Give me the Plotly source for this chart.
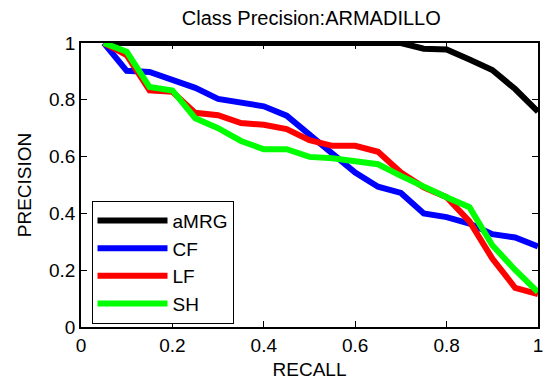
import plotly.graph_objects as go

recall = [0.05, 0.10, 0.15, 0.20, 0.25, 0.30, 0.35, 0.40, 0.45, 0.50,
          0.55, 0.60, 0.65, 0.70, 0.75, 0.80, 0.85, 0.90, 0.95, 1.00]

amrg = [1.0, 1.0, 1.0, 1.0, 1.0, 1.0, 1.0, 1.0, 1.0, 1.0,
        1.0, 1.0, 1.0, 1.0, 0.98, 0.977, 0.942, 0.905, 0.838, 0.758]
cf = [1.0, 0.902, 0.898, 0.872, 0.842, 0.803, 0.788, 0.777, 0.744, 0.678,
      0.614, 0.544, 0.494, 0.472, 0.400, 0.387, 0.364, 0.327, 0.315, 0.284]
lf = [1.0, 0.957, 0.833, 0.828, 0.754, 0.746, 0.718, 0.712, 0.697, 0.658,
      0.638, 0.638, 0.617, 0.544, 0.492, 0.457, 0.372, 0.241, 0.138, 0.116]
sh = [1.0, 0.969, 0.845, 0.833, 0.735, 0.700, 0.655, 0.626, 0.626, 0.599,
      0.594, 0.585, 0.573, 0.532, 0.492, 0.457, 0.422, 0.288, 0.201, 0.123]

names = ["aMRG", "CF", "LF", "SH"]
colors = ["#000000", "#0000ff", "#ff0000", "#00ff00"]
series = [amrg, cf, lf, sh]

x_ticks = [0, 0.2, 0.4, 0.6, 0.8, 1]
x_tick_labels = ["0", "0.2", "0.4", "0.6", "0.8", "1"]
y_ticks = [0, 0.2, 0.4, 0.6, 0.8, 1]
y_tick_labels = ["0", "0.2", "0.4", "0.6", "0.8", "1"]

font = "Liberation Sans, Arial, sans-serif"

fig = go.Figure()
for name, col, ys in zip(names, colors, series):
    fig.add_trace(go.Scatter(x=recall, y=ys, mode="lines", name=name,
                             line=dict(color=col, width=6)))

axis_common = dict(showline=True, linecolor="black", linewidth=1.5, mirror="ticks",
                   ticks="inside", ticklen=6, tickcolor="black", tickwidth=1,
                   showgrid=False, zeroline=False,
                   tickfont=dict(family=font, size=19, color="black"))

fig.update_layout(
    width=549, height=383,
    margin=dict(l=81, r=6, t=43, b=54),
    paper_bgcolor="white", plot_bgcolor="white",
    title=dict(text="Class Precision:ARMADILLO", x=0.567, xanchor="center",
               y=0.953, yanchor="middle",
               font=dict(family=font, size=20, color="black")),
    xaxis=dict(range=[0, 1], tickvals=x_ticks, ticktext=x_tick_labels,
               title=dict(text="RECALL", font=dict(family=font, size=19, color="black"),
                          standoff=8),
               **axis_common),
    yaxis=dict(range=[0, 1], tickvals=y_ticks, ticktext=y_tick_labels,
               title=dict(text="PRECISION", font=dict(family=font, size=19, color="black"),
                          standoff=12),
               **axis_common),
    legend=dict(x=0.023, y=0.012, xanchor="left", yanchor="bottom",
                bordercolor="black", borderwidth=1, bgcolor="white",
                itemwidth=70,
                font=dict(family=font, size=19, color="black")),
    showlegend=True,
)

fig.write_html("out.html")
